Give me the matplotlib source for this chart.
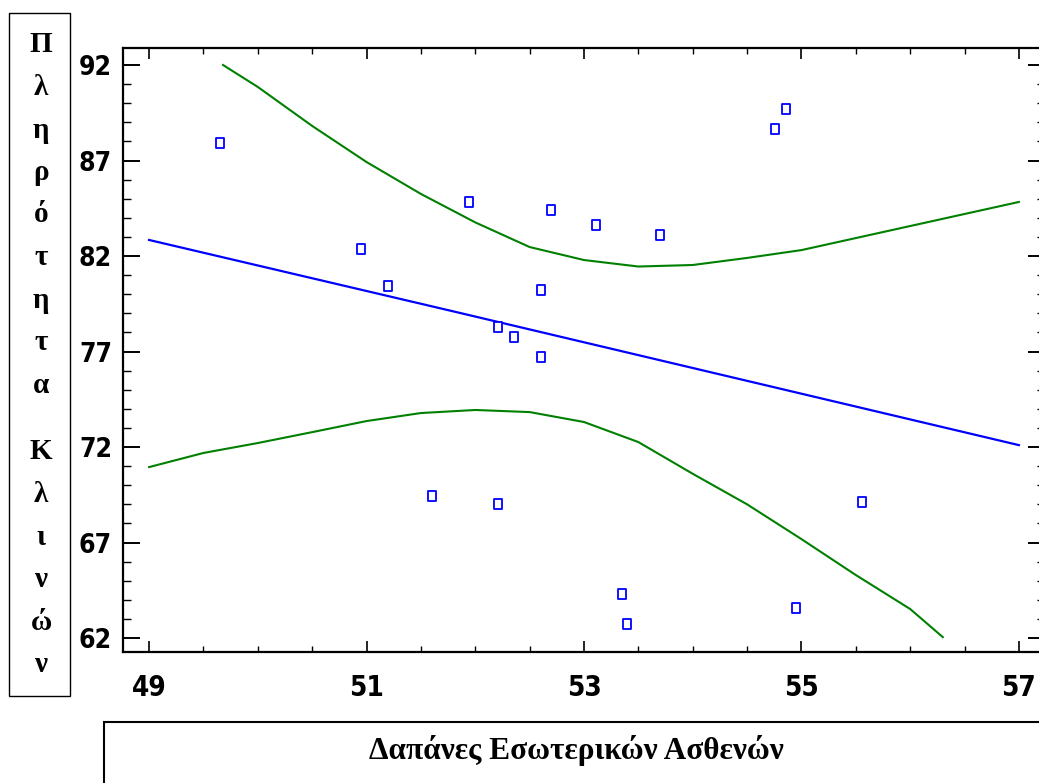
import matplotlib
matplotlib.use("Agg")
import matplotlib.pyplot as plt
from matplotlib import font_manager
from matplotlib.patches import Rectangle
from matplotlib.path import Path
from matplotlib.ticker import MultipleLocator, FixedLocator

# ---- data ----
pts_x = [49.65, 50.95, 51.20, 51.94, 52.70, 53.11, 53.70, 52.60, 52.21, 52.36,
         52.60, 54.86, 54.76, 51.60, 52.21, 53.35, 53.40, 55.56, 54.95]
pts_y = [87.92, 82.37, 80.43, 84.83, 84.41, 83.62, 83.10, 80.22, 78.28, 77.76,
         76.71, 89.70, 88.65, 69.43, 69.02, 64.30, 62.73, 69.12, 63.57]

fit_x = [49.0, 51.77, 57.0]
fit_y = [82.84, 79.14, 72.10]

upper_x = [49.68, 50.0, 50.5, 51.0, 51.5, 52.0, 52.5, 53.0, 53.5, 54.0,
           54.5, 55.0, 55.5, 56.0, 56.5, 57.0]
upper_y = [92.00, 90.85, 88.81, 86.92, 85.25, 83.76, 82.47, 81.79, 81.45, 81.53,
           81.90, 82.31, 82.94, 83.57, 84.20, 84.83]

lower_x = [49.0, 49.5, 50.0, 50.5, 51.0, 51.5, 52.0, 52.5, 53.0, 53.5,
           54.0, 54.5, 55.0, 55.5, 56.0, 56.3]
lower_y = [70.95, 71.69, 72.21, 72.78, 73.36, 73.78, 73.94, 73.83, 73.31, 72.26,
           70.60, 69.00, 67.18, 65.30, 63.52, 62.05]

x_major = [49, 51, 53, 55, 57]
y_major = [62, 67, 72, 77, 82, 87, 92]

xlabel = "Δαπάνες Εσωτερικών Ασθενών"
ylabel_top = "Πληρότητα"
ylabel_bottom = "Κλινών"

# ---- choose a narrow bold sans for tick labels ----
fonts = font_manager.fontManager.ttflist
names = {f.name for f in fonts}
tick_kw = dict(fontweight="bold")
size_x, size_y = 20, 19
if "Liberation Sans Narrow" in names:
    tick_kw.update(fontfamily=["Liberation Sans Narrow", "DejaVu Sans"])
elif any(f.name == "DejaVu Sans" and "condensed" in str(f.stretch) for f in fonts):
    tick_kw.update(fontfamily=["DejaVu Sans"], fontstretch="condensed")
else:
    tick_kw.update(fontfamily=["Liberation Sans", "DejaVu Sans"])

# ---- figure ----
W, H = 1039, 783
fig = plt.figure(figsize=(W / 100, H / 100), dpi=100)

def fx(px):
    return px / W

def fy(py):
    return 1 - py / H

left, right, top, bottom = 123, 1045, 48, 652
ax = fig.add_axes([fx(left), fy(bottom), (right - left) / W, (bottom - top) / H])
ax.set_xlim(48.76, 57.24)
ax.set_ylim(61.27, 92.89)

rect_marker = Path([(-0.35, -0.5), (0.35, -0.5), (0.35, 0.5), (-0.35, 0.5), (-0.35, -0.5)],
                   [Path.MOVETO, Path.LINETO, Path.LINETO, Path.LINETO, Path.CLOSEPOLY])

ax.plot(fit_x, fit_y, color="#0000ff", lw=1.6, zorder=2)
ax.plot(upper_x, upper_y, color="#008000", lw=1.5, zorder=2)
ax.plot(lower_x, lower_y, color="#008000", lw=1.5, zorder=2)
ax.plot(pts_x, pts_y, linestyle="none", marker=rect_marker, markersize=7.5,
        markerfacecolor="white", markeredgecolor="#0000ff", markeredgewidth=1.3, zorder=3)

for s in ax.spines.values():
    s.set_linewidth(1.6)

ax.xaxis.set_major_locator(FixedLocator(x_major))
ax.xaxis.set_minor_locator(MultipleLocator(0.5))
ax.yaxis.set_major_locator(FixedLocator(y_major))
ax.yaxis.set_minor_locator(MultipleLocator(1))

ax.tick_params(axis="x", which="major", direction="in", length=8, width=1.2,
               top=True, bottom=True, pad=16)
ax.tick_params(axis="x", which="minor", direction="in", length=4, width=1.0,
               top=True, bottom=True)
ax.tick_params(axis="y", which="major", direction="in", length=12.5, width=1.4,
               left=True, right=True, pad=8)
ax.tick_params(axis="y", which="minor", direction="in", length=6, width=1.0,
               left=True, right=True)

ax.set_xticklabels([str(v) for v in x_major], fontsize=size_x, **tick_kw)
ax.set_yticklabels([str(v) for v in y_major], fontsize=size_y, **tick_kw)

# ---- label boxes ----
serif = ["Liberation Serif", "DejaVu Serif"]
fig.patches.append(Rectangle((fx(9), fy(696)), (70 - 9) / W, (696 - 13) / H,
                             transform=fig.transFigure, fill=False,
                             edgecolor="black", lw=1.0))
fig.patches.append(Rectangle((fx(104), fy(800)), (1060 - 104) / W, (800 - 722) / H,
                             transform=fig.transFigure, fill=False,
                             edgecolor="black", lw=1.5, clip_on=False))

for i, ch in enumerate(ylabel_top):
    fig.text(fx(41), fy(45 + i * 42.5), ch, ha="center", va="center",
             fontfamily=serif, fontweight="bold", fontsize=21)
for i, ch in enumerate(ylabel_bottom):
    fig.text(fx(41), fy(452 + i * 42.6), ch, ha="center", va="center",
             fontfamily=serif, fontweight="bold", fontsize=21)

fig.text(fx(576), fy(750), xlabel, ha="center", va="center",
         fontfamily=serif, fontweight="bold", fontsize=22.5)

fig.savefig("out.png", dpi=100)
